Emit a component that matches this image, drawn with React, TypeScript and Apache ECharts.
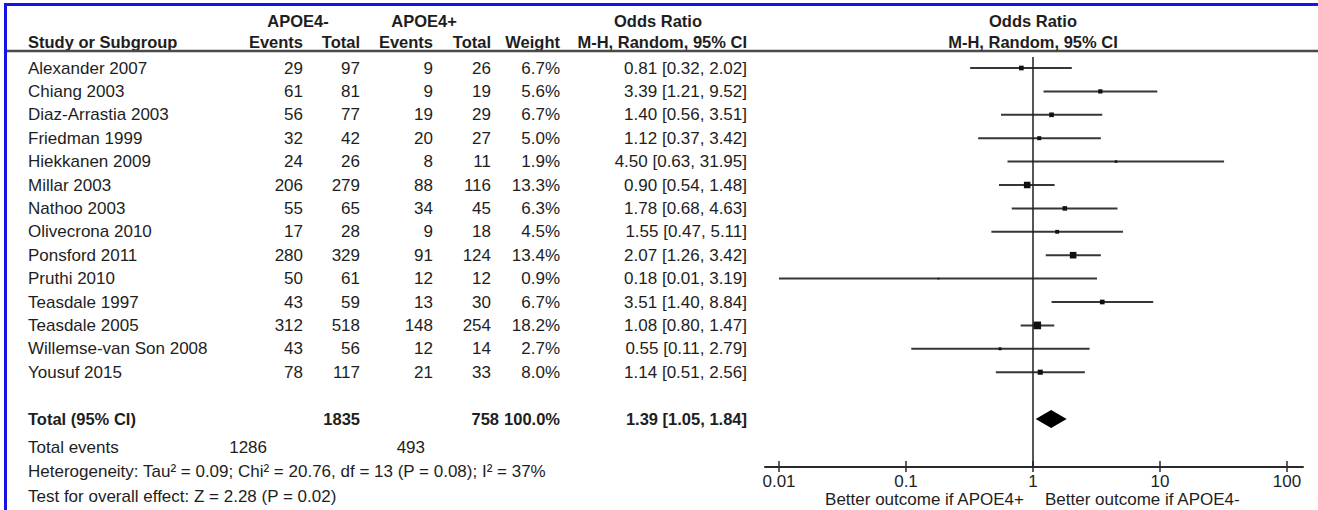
import React, { useEffect, useRef } from "react";
import * as echarts from "echarts";

// ---------------- data ----------------
const studyNames = [
  "Alexander 2007",
  "Chiang 2003",
  "Diaz-Arrastia 2003",
  "Friedman 1999",
  "Hiekkanen 2009",
  "Millar 2003",
  "Nathoo 2003",
  "Olivecrona 2010",
  "Ponsford 2011",
  "Pruthi 2010",
  "Teasdale 1997",
  "Teasdale 2005",
  "Willemse-van Son 2008",
  "Yousuf 2015",
];
const eventsNeg = [29, 61, 56, 32, 24, 206, 55, 17, 280, 50, 43, 312, 43, 78];
const totalNeg = [97, 81, 77, 42, 26, 279, 65, 28, 329, 61, 59, 518, 56, 117];
const eventsPos = [9, 9, 19, 20, 8, 88, 34, 9, 91, 12, 13, 148, 12, 21];
const totalPos = [26, 19, 29, 27, 11, 116, 45, 18, 124, 12, 30, 254, 14, 33];
const weights = [6.7, 5.6, 6.7, 5.0, 1.9, 13.3, 6.3, 4.5, 13.4, 0.9, 6.7, 18.2, 2.7, 8.0];
const oddsRatios = [0.81, 3.39, 1.4, 1.12, 4.5, 0.9, 1.78, 1.55, 2.07, 0.18, 3.51, 1.08, 0.55, 1.14];
const ciLow = [0.32, 1.21, 0.56, 0.37, 0.63, 0.54, 0.68, 0.47, 1.26, 0.01, 1.4, 0.8, 0.11, 0.51];
const ciHigh = [2.02, 9.52, 3.51, 3.42, 31.95, 1.48, 4.63, 5.11, 3.42, 3.19, 8.84, 1.47, 2.79, 2.56];

const pooledTotalNeg = 1835;
const pooledTotalPos = 758;
const pooledWeight = 100.0;
const pooledEventsNeg = 1286;
const pooledEventsPos = 493;
const pooledOR = 1.39;
const pooledLow = 1.05;
const pooledHigh = 1.84;

const heterogeneityText = "Heterogeneity: Tau² = 0.09; Chi² = 20.76, df = 13 (P = 0.08); I² = 37%";
const overallEffectText = "Test for overall effect: Z = 2.28 (P = 0.02)";

const tickValues = [0.01, 0.1, 1, 10, 100];
const tickLabels = ["0.01", "0.1", "1", "10", "100"];

// ---------------- layout / style ----------------
const W = 1318;
const H = 510;
const FONT = '"Liberation Sans", Arial, Helvetica, sans-serif';
const REG = 17;
const BOLD = 16.5;
const TEXT = "#1e1e1e";
const LEFT_X = 28;
const COL = { evNeg: 303, totNeg: 360, evPos: 433, totPos: 491, weight: 560, or: 747 };
const GROUP_X = { neg: 298, pos: 424, or: 658 };
const ROW0_Y = 68;
const ROW_H = 23.4;
const GRID_TOP = 57;
const AXIS_Y = 467;
const Y_MIN = (GRID_TOP - ROW0_Y) / ROW_H;
const Y_MAX = (AXIS_Y - ROW0_Y) / ROW_H;
const ROW = {
  h1: (21 - ROW0_Y) / ROW_H,
  h2: (42 - ROW0_Y) / ROW_H,
  rule: (51 - ROW0_Y) / ROW_H,
  total: 15,
  events: 16.2,
  het: 17.25,
  test: 18.33,
  better: (499 - ROW0_Y) / ROW_H,
};
const X_ONE = 1033; // pixel of OR = 1
const DECADE = 127; // pixels per decade
const AXIS_EXT_L = 14;
const AXIS_EXT_R = 16;
const GRID_LEFT = X_ONE - 2 * DECADE - AXIS_EXT_L;
const GRID_RIGHT = W - (X_ONE + 2 * DECADE + AXIS_EXT_R);
const SQUARE_K = 1.8;
const DIAMOND_HALF = 9;

const f2 = (v: number) => v.toFixed(2);

type Cell = { x: number; row: number; text: string; align: string; bold: boolean };

function buildCells(): Cell[] {
  const cells: Cell[] = [];
  const add = (x: number, row: number, text: string, align: string, bold = false) =>
    cells.push({ x, row, text, align, bold });
  add(GROUP_X.neg, ROW.h1, "APOE4-", "center", true);
  add(GROUP_X.pos, ROW.h1, "APOE4+", "center", true);
  add(GROUP_X.or, ROW.h1, "Odds Ratio", "center", true);
  add(LEFT_X, ROW.h2, "Study or Subgroup", "left", true);
  add(COL.evNeg, ROW.h2, "Events", "right", true);
  add(COL.totNeg, ROW.h2, "Total", "right", true);
  add(COL.evPos, ROW.h2, "Events", "right", true);
  add(COL.totPos, ROW.h2, "Total", "right", true);
  add(COL.weight, ROW.h2, "Weight", "right", true);
  add(COL.or, ROW.h2, "M-H, Random, 95% CI", "right", true);
  studyNames.forEach((name, i) => {
    add(LEFT_X, i, name, "left");
    add(COL.evNeg, i, String(eventsNeg[i]), "right");
    add(COL.totNeg, i, String(totalNeg[i]), "right");
    add(COL.evPos, i, String(eventsPos[i]), "right");
    add(COL.totPos, i, String(totalPos[i]), "right");
    add(COL.weight, i, weights[i].toFixed(1) + "%", "right");
    add(COL.or, i, `${f2(oddsRatios[i])} [${f2(ciLow[i])}, ${f2(ciHigh[i])}]`, "right");
  });
  add(LEFT_X, ROW.total, "Total (95% CI)", "left", true);
  add(COL.totNeg, ROW.total, String(pooledTotalNeg), "right", true);
  add(COL.totPos + 8, ROW.total, String(pooledTotalPos), "right", true);
  add(COL.weight, ROW.total, pooledWeight.toFixed(1) + "%", "right", true);
  add(COL.or, ROW.total, `${f2(pooledOR)} [${f2(pooledLow)}, ${f2(pooledHigh)}]`, "right", true);
  add(LEFT_X, ROW.events, "Total events", "left");
  add(COL.evNeg - 36, ROW.events, String(pooledEventsNeg), "right");
  add(COL.evPos - 8, ROW.events, String(pooledEventsPos), "right");
  add(LEFT_X, ROW.het, heterogeneityText, "left");
  add(LEFT_X, ROW.test, overallEffectText, "left");
  return cells;
}

const forestTexts = [
  { row: ROW.h1, dx: 0, text: "Odds Ratio", align: "center", bold: true },
  { row: ROW.h2, dx: 0, text: "M-H, Random, 95% CI", align: "center", bold: true },
  { row: ROW.better, dx: -9, text: "Better outcome if APOE4+", align: "right", bold: false },
  { row: ROW.better, dx: 12, text: "Better outcome if APOE4-", align: "left", bold: false },
];

function textEl(x: number, y: number, text: string, align: string, bold: boolean) {
  return {
    type: "text",
    x,
    y,
    style: {
      text,
      align,
      verticalAlign: "middle",
      textAlign: align,
      textVerticalAlign: "middle",
      font: `${bold ? "bold " : ""}${bold ? BOLD : REG}px ${FONT}`,
      fill: TEXT,
    },
  };
}

function tickFormatter(v: number) {
  const idx = tickValues.findIndex((t) => Math.abs(Math.log10(t) - Math.log10(v)) < 1e-6);
  return idx >= 0 ? tickLabels[idx] : "";
}

export default function App() {
  const ref = useRef<HTMLDivElement>(null);
  useEffect(() => {
    document.body.style.margin = "0";
    if (!ref.current) return;
    const chart = echarts.init(ref.current, null, { renderer: "svg" });
    const cells = buildCells();
    const logMin = Math.pow(10, -2 - AXIS_EXT_L / DECADE);
    const logMax = Math.pow(10, 2 + AXIS_EXT_R / DECADE);
    const yAxisBase = {
      type: "value",
      inverse: true,
      min: Y_MIN,
      max: Y_MAX,
      show: false,
    };
    const option: any = {
      animation: false,
      backgroundColor: "#ffffff",
      grid: [
        { left: GRID_LEFT, right: GRID_RIGHT, top: GRID_TOP, bottom: H - AXIS_Y },
        { left: 0, right: 0, top: GRID_TOP, bottom: H - AXIS_Y },
      ],
      xAxis: [
        {
          type: "log",
          logBase: 10,
          gridIndex: 0,
          min: logMin,
          max: logMax,
          position: "bottom",
          axisLine: { show: true, onZero: false, lineStyle: { color: "#2a2a2a", width: 2 } },
          axisTick: {
            show: true,
            inside: true,
            length: 6,
            customValues: tickValues,
            lineStyle: { color: "#2a2a2a", width: 1.5 },
          },
          axisLabel: {
            show: true,
            customValues: tickValues,
            formatter: tickFormatter,
            margin: 6,
            fontFamily: FONT,
            fontSize: REG,
            color: TEXT,
          },
          splitLine: { show: false },
        },
        {
          type: "log",
          logBase: 10,
          gridIndex: 0,
          min: logMin,
          max: logMax,
          position: "bottom",
          axisLine: { show: false, onZero: false },
          axisTick: {
            show: true,
            inside: false,
            length: 5,
            customValues: tickValues,
            lineStyle: { color: "#2a2a2a", width: 1.5 },
          },
          axisLabel: { show: false },
          splitLine: { show: false },
        },
        { type: "value", gridIndex: 1, min: 0, max: W, show: false },
      ],
      yAxis: [
        { ...yAxisBase, gridIndex: 0 },
        { ...yAxisBase, gridIndex: 1 },
      ],
      graphic: [
        { type: "rect", left: 4, top: 3, shape: { width: 3, height: H - 3 }, style: { fill: "#1414e6" }, z: 100 },
        { type: "rect", left: 4, top: 3, shape: { width: W - 4, height: 3 }, style: { fill: "#1414e6" }, z: 100 },
      ],
      series: [
        {
          type: "custom",
          name: "table",
          xAxisIndex: 2,
          yAxisIndex: 1,
          silent: true,
          data: cells.map((c) => [c.x, c.row]),
          renderItem: (params: any, api: any) => {
            const c = cells[params.dataIndex];
            const p = api.coord([c.x, c.row]);
            return textEl(p[0], p[1], c.text, c.align, c.bold);
          },
        },
        {
          type: "custom",
          name: "rule",
          xAxisIndex: 2,
          yAxisIndex: 1,
          silent: true,
          data: [[6, ROW.rule]],
          renderItem: (params: any, api: any) => {
            const a = api.coord([api.value(0), api.value(1)]);
            const b = api.coord([W, api.value(1)]);
            return {
              type: "line",
              shape: { x1: a[0], y1: a[1], x2: b[0], y2: b[1] },
              style: { stroke: "#4a4a4a", lineWidth: 2.5 },
            };
          },
        },
        {
          type: "custom",
          name: "studies",
          xAxisIndex: 0,
          yAxisIndex: 0,
          silent: true,
          encode: { x: 0, y: 1 },
          data: studyNames.map((_, i) => [oddsRatios[i], i, ciLow[i], ciHigh[i], weights[i]]),
          renderItem: (params: any, api: any) => {
            const row = api.value(1);
            const pOr = api.coord([api.value(0), row]);
            const pLo = api.coord([api.value(2), row]);
            const pHi = api.coord([api.value(3), row]);
            const s = SQUARE_K * Math.sqrt(api.value(4));
            return {
              type: "group",
              children: [
                {
                  type: "line",
                  shape: { x1: pLo[0], y1: pLo[1], x2: pHi[0], y2: pHi[1] },
                  style: { stroke: "#363636", lineWidth: 2 },
                },
                {
                  type: "rect",
                  shape: { x: pOr[0] - s / 2, y: pOr[1] - s / 2, width: s, height: s },
                  style: { fill: "#111111" },
                },
              ],
            };
          },
          markLine: {
            silent: true,
            symbol: ["none", "none"],
            label: { show: false },
            lineStyle: { color: "#1e1e1e", width: 1.5, type: "solid" },
            data: [{ xAxis: 1 }],
          },
        },
        {
          type: "custom",
          name: "pooled",
          xAxisIndex: 0,
          yAxisIndex: 0,
          silent: true,
          encode: { x: 0, y: 1 },
          data: [[pooledOR, ROW.total, pooledLow, pooledHigh]],
          renderItem: (params: any, api: any) => {
            const row = api.value(1);
            const c = api.coord([api.value(0), row]);
            const lo = api.coord([api.value(2), row]);
            const hi = api.coord([api.value(3), row]);
            return {
              type: "polygon",
              shape: {
                points: [
                  [lo[0], c[1]],
                  [c[0], c[1] - DIAMOND_HALF],
                  [hi[0], c[1]],
                  [c[0], c[1] + DIAMOND_HALF],
                ],
              },
              style: { fill: "#000000" },
            };
          },
        },
        {
          type: "custom",
          name: "forestText",
          xAxisIndex: 0,
          yAxisIndex: 0,
          silent: true,
          encode: { x: 0, y: 1 },
          data: forestTexts.map((t) => [1, t.row]),
          renderItem: (params: any, api: any) => {
            const t = forestTexts[params.dataIndex];
            const p = api.coord([api.value(0), api.value(1)]);
            return textEl(p[0] + t.dx, p[1], t.text, t.align, t.bold);
          },
        },
      ],
    };
    chart.setOption(option);
    return () => chart.dispose();
  }, []);
  return <div ref={ref} style={{ width: W, height: H }} />;
}
